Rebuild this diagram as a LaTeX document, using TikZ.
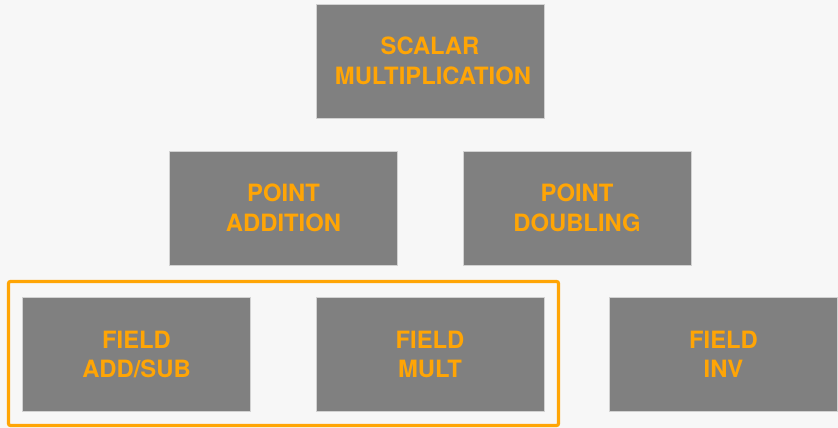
\documentclass[tikz,border=0pt]{standalone}
\usepackage{fontspec}
\setmainfont{TeX Gyre Heros}
\definecolor{bg}{HTML}{F7F7F7}
\definecolor{boxgray}{HTML}{808080}
\definecolor{boxedge}{HTML}{D2D2D2}
\definecolor{accent}{HTML}{FFA505}
\begin{document}
\begin{tikzpicture}[x=1pt,y=-1pt,
  box/.style={draw=boxedge, line width=0.8pt, fill=boxgray,
    minimum width=228pt, minimum height=114pt, inner sep=0pt,
    align=center, text=accent,
    font=\bfseries\fontsize{23.8}{29.5}\selectfont},
  frame/.style={draw=accent, line width=3.2pt, rounded corners=2pt}]
\fill[bg] (0,0) rectangle (838,428);
\useasboundingbox (0,0) rectangle (838,428);
\node[box] (scalar) at (430,61) {SCALAR\\\hspace*{6pt}MULTIPLICATION};
\node[box] (padd) at (283.5,208) {POINT\\ADDITION};
\node[box] (pdbl) at (577,208) {POINT\\DOUBLING};
\node[box] (fadd) at (136.5,354.5) {FIELD\\ADD/SUB};
\node[box] (fmul) at (430,354.5) {FIELD\\MULT};
\node[box] (finv) at (723.5,354.5) {FIELD\\INV};
\coordinate (frameTL) at (8.5,281.5);
\coordinate (frameBR) at (558.5,425.5);
\draw[frame] (frameTL) rectangle (frameBR);
\end{tikzpicture}
\end{document}
